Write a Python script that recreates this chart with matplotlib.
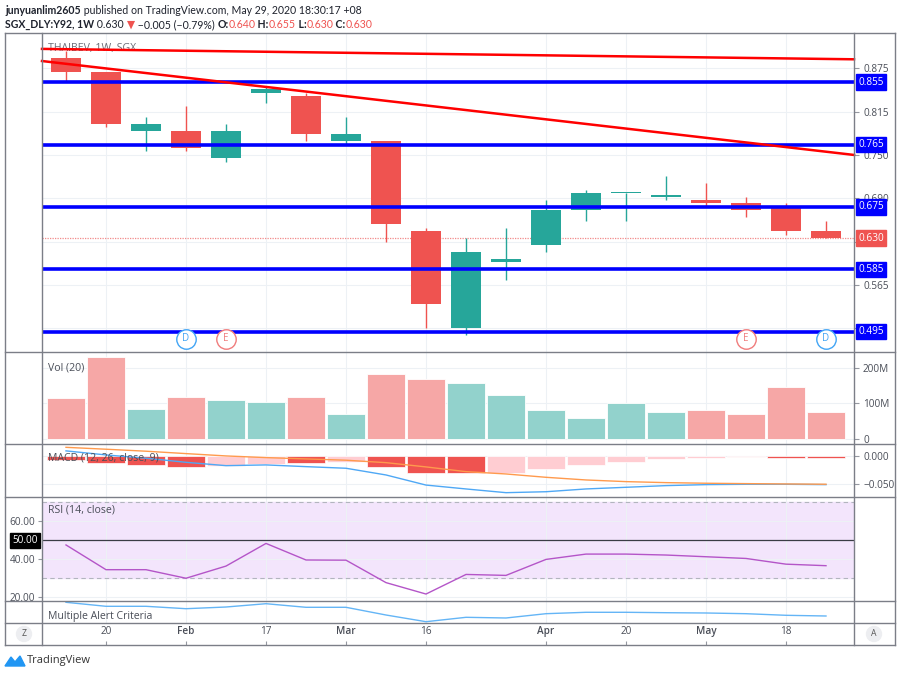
import matplotlib
matplotlib.use("Agg")
import matplotlib.pyplot as plt
from matplotlib.patches import Circle, Polygon
from matplotlib.lines import Line2D
from matplotlib.transforms import blended_transform_factory

plt.rcParams['font.family'] = ['Open Sans', 'DejaVu Sans']

W, H = 900, 675

# weekly bars, week of 13 Jan 2020 .. week of 25 May 2020
opens  = [0.890, 0.870, 0.785, 0.785, 0.745, 0.840, 0.835, 0.770, 0.770, 0.640,
          0.500, 0.595, 0.620, 0.670, 0.695, 0.690, 0.685, 0.680, 0.675, 0.640]
highs  = [0.900, 0.870, 0.805, 0.820, 0.795, 0.850, 0.840, 0.805, 0.770, 0.645,
          0.630, 0.645, 0.685, 0.700, 0.695, 0.720, 0.710, 0.690, 0.680, 0.655]
lows   = [0.855, 0.790, 0.755, 0.755, 0.740, 0.825, 0.770, 0.765, 0.625, 0.500,
          0.490, 0.570, 0.610, 0.655, 0.655, 0.685, 0.675, 0.660, 0.635, 0.630]
closes = [0.870, 0.795, 0.795, 0.760, 0.785, 0.845, 0.780, 0.780, 0.650, 0.535,
          0.610, 0.600, 0.670, 0.695, 0.695, 0.690, 0.680, 0.670, 0.640, 0.630]
volume_m = [116, 232, 84, 117, 110, 103, 118, 71, 184, 170,
            156, 123, 82, 59, 100, 75, 80, 70, 146, 76]

macd_line = [0.0096, 0.0023, -0.0036, -0.011, -0.017, -0.0157, -0.0188, -0.0217, -0.0338, -0.052,
             -0.059, -0.0657, -0.064, -0.059, -0.056, -0.053, -0.0512, -0.0506, -0.0506, -0.0512]
macd_signal = [0.016, 0.0126, 0.009, 0.0047, 0.0005, -0.0025, -0.0049, -0.0072, -0.0116, -0.0193,
               -0.0278, -0.032, -0.038, -0.0428, -0.0458, -0.0476, -0.0487, -0.0494, -0.050, -0.0505]
macd_hist = [-0.007, -0.0126, -0.0157, -0.019, -0.018, -0.014, -0.013, -0.011, -0.020, -0.031,
             -0.031, -0.0296, -0.023, -0.015, -0.0097, -0.0049, -0.0025, -0.0013, -0.0025, -0.0025]
hist_falling = [1, 1, 1, 1, 0, 0, 1, 0, 1, 1, 1, 0, 0, 0, 0, 0, 0, 0, 1, 1]

rsi = [47.5, 34.5, 34.5, 30.0, 36.4, 48.3, 39.6, 39.5, 27.7, 21.7,
       32.0, 31.5, 39.9, 42.7, 42.7, 42.2, 41.3, 40.4, 37.4, 36.6]
alert = [92.9, 75.2, 75.2, 64.6, 72.1, 86.7, 70.8, 70.8, 36.7, 7.1,
         26.5, 23.5, 42.5, 48.7, 48.7, 46.9, 45.6, 42.5, 35.4, 32.3]

levels = [0.855, 0.765, 0.675, 0.585, 0.495]
trend_lines = [((-0.6, 0.903), (19.7, 0.888)),
               ((-0.6, 0.8855), (19.7, 0.750))]
events = [(3, 'D'), (4, 'E'), (17, 'E'), (19, 'D')]

xtick_pos = [1, 3, 5, 7, 9, 12, 14, 16, 18]
xtick_lab = ['20', 'Feb', '17', 'Mar', '16', 'Apr', '20', 'May', '18']

price_ticks = [0.5, 0.5625, 0.625, 0.6875, 0.75, 0.8125, 0.875]
price_tick_lab = ['', '0.565', '', '0.690', '0.750', '0.815', '0.875']

UP, DOWN = '#26A69A', '#EF5350'
GRID = '#EDF1F5'
SEP = '#7B7E87'
TXT = '#4A4E58'
BLUE = '#0000FF'

fig = plt.figure(figsize=(9, 6.75), dpi=100)
n = len(closes)
xs = list(range(n))
XL = (-0.6, 19.7)


def panel(y0, y1):
    a = fig.add_axes([42 / W, 1 - y1 / H, (854 - 42) / W, (y1 - y0) / H])
    a.set_xlim(*XL)
    for s in a.spines.values():
        s.set_visible(False)
    a.set_xticks(xtick_pos)
    a.tick_params(axis='x', length=0, labelbottom=False)
    a.grid(True, color=GRID, lw=0.8)
    a.set_axisbelow(True)
    return a


def right_ticks(a, ticks, labels):
    a.yaxis.tick_right()
    a.set_yticks(ticks)
    a.set_yticklabels(labels)
    a.tick_params(axis='y', length=3.5, width=0.8, color='#9598A1', pad=3,
                  labelsize=7.2, labelcolor=TXT)


def axis_box(a, val, txt, color, fg='white'):
    tr = blended_transform_factory(a.transAxes, a.transData)
    a.annotate(txt, xy=(1, val), xycoords=tr, xytext=(3.2, 0), textcoords='offset points',
               ha='left', va='center', fontsize=7.2, color=fg, annotation_clip=False,
               bbox=dict(boxstyle='square,pad=0.22', fc=color, ec=color), zorder=20)


# price panel
ax = panel(33.3, 352)
ax.set_ylim(0.4657, 0.9255)
right_ticks(ax, price_ticks, price_tick_lab)
for i in xs:
    o, h, l, c = opens[i], highs[i], lows[i], closes[i]
    col = UP if c >= o else DOWN
    ax.vlines(i, l, h, color=col, lw=1, zorder=2)
    body = max(abs(c - o), 0.0018)
    ax.bar(i, body, bottom=min(o, c), width=0.77, color=col, zorder=3)
for lv in levels:
    ax.axhline(lv, color=BLUE, lw=2.6, zorder=4)
    axis_box(ax, lv, f'{lv:.3f}', BLUE)
for (xa, ya), (xb, yb) in trend_lines:
    ax.plot([xa, xb], [ya, yb], color='#FF0000', lw=1.8, zorder=5, clip_on=False)
ax.axhline(closes[-1], color='#F28B8B', lw=0.9, ls=(0, (1, 1)), zorder=1)
axis_box(ax, closes[-1], f'{closes[-1]:.3f}', DOWN)
ax.text(0.007, 0.952, 'THAIBEV, 1W, SGX', transform=ax.transAxes, fontsize=7.6,
        color='#6A6D78', va='center', zorder=1)
for i, lt in events:
    ec = '#42A5F5' if lt == 'D' else '#F07C7C'
    ax.plot(i, 0.4845, 'o', ms=14, mfc='white', mec=ec, mew=1, zorder=6, clip_on=False)
    ax.text(i, 0.4845, lt, ha='center', va='center', fontsize=7, color=ec, zorder=7)

# volume
av = panel(352, 444)
av.set_ylim(-15, 245)
right_ticks(av, [0, 100, 200], ['0', '100M', '200M'])
vcol = ['#92D2CC' if closes[i] >= opens[i] else '#F6A7A6' for i in xs]
av.bar(xs, volume_m, width=0.97, color=vcol, edgecolor='white', lw=0.6, zorder=2)
av.text(0.007, 0.83, 'Vol (20)', transform=av.transAxes, fontsize=7.6, color=TXT, va='center')

# macd
am = panel(444, 497)
am.set_ylim(-0.0735, 0.022)
right_ticks(am, [0, -0.05], ['0.000', '\u22120.050'])
hcol = [DOWN if f else '#FFCDD2' for f in hist_falling]
am.bar(xs, macd_hist, width=0.97, color=hcol, edgecolor='white', lw=0.5, zorder=2)
am.plot(xs, macd_line, color='#4FA8F5', lw=1, zorder=3)
am.plot(xs, macd_signal, color='#FF9A4D', lw=1, zorder=3)
am.text(0.007, 0.74, 'MACD (12, 26, close, 9)', transform=am.transAxes, fontsize=7.6,
        color=TXT, va='center', zorder=4)

# rsi
ar = panel(497, 600.7)
ar.set_ylim(18.2, 72.7)
ar.set_yticks([20, 40, 60])
ar.set_yticklabels(['20.00', '40.00', '60.00'])
ar.tick_params(axis='y', length=3, width=0.8, color='#9598A1', pad=2, labelsize=7.2,
               labelcolor=TXT)
ar.axhspan(30, 70, color='#F3E5FC', zorder=0.5)
for lv in (30, 70):
    ar.axhline(lv, color='#B2B5BE', lw=0.8, ls=(0, (4, 3)), zorder=1)
ar.axhline(50, color='#3A3D45', lw=0.9, zorder=1)
ar.plot(xs, rsi, color='#B455C8', lw=1, zorder=3)
ar.text(0.007, 0.875, 'RSI (14, close)', transform=ar.transAxes, fontsize=7.6, color=TXT,
        va='center')
trl = blended_transform_factory(ar.transAxes, ar.transData)
ar.annotate('50.00', xy=(0, 50), xycoords=trl, xytext=(-3, 0), textcoords='offset points',
            ha='right', va='center', fontsize=7.2, color='white', annotation_clip=False,
            bbox=dict(boxstyle='square,pad=0.2', fc='black', ec='black'))

# alert criteria
aa = panel(600.7, 623.3)
aa.set_ylim(0, 100)
aa.set_yticks([])
aa.plot(xs, alert, color='#64B5F6', lw=1, zorder=3)
aa.text(0.007, 0.3, 'Multiple Alert Criteria', transform=aa.transAxes, fontsize=7.6,
        color=TXT, va='center')

# time axis
at = panel(623.3, 645)
at.set_yticks([])
at.grid(False)
at.tick_params(axis='x', length=3, color='#9598A1', labelbottom=True, pad=-14, labelsize=7.2,
               labelcolor=TXT, direction='in')
at.set_xticklabels(xtick_lab)
for lab in at.get_xticklabels():
    if lab.get_text().isalpha():
        lab.set_fontweight('semibold')

# frame, separators, header, logo
fr = fig.add_axes([0, 0, 1, 1], zorder=10)
fr.set_xlim(0, W)
fr.set_ylim(H, 0)
fr.axis('off')
fr.patch.set_visible(False)
for y in (33.3, 352, 444, 497, 600.7, 623.3, 645):
    fr.add_line(Line2D([5, 895], [y, y], color=SEP, lw=1))
for x in (5, 42, 854, 895):
    fr.add_line(Line2D([x, x], [33.3, 645], color=SEP, lw=1))
for x, t in ((24, 'Z'), (874, 'A')):
    fr.add_patch(Circle((x, 634), 7.5, color='#EDEEF1'))
    fr.text(x, 634, t, ha='center', va='center', fontsize=6.2, color='#555')

fig.canvas.draw()
rend = fig.canvas.get_renderer()


def text_run(x, y, parts):
    for txt, weight, color in parts:
        t = fr.text(x, y, txt, fontsize=7.6, fontweight=weight, color=color, va='center',
                    family=['Lato', 'DejaVu Sans'])
        bb = t.get_window_extent(renderer=rend)
        x += bb.width * W / fig.bbox.width


DARK = '#1E222D'
RED = '#EF5350'
text_run(5, 10, [('junyuanlim2605', 'bold', DARK),
                 (' published on TradingView.com, May 29, 2020 18:30:17 +08', 'normal', DARK)])
text_run(5, 24.5, [('SGX_DLY:Y92, 1W', 'bold', DARK), (' 0.630 ', 'normal', DARK),
                   ('\u25BC', 'normal', RED), (' \u22120.005 (\u22120.79%) ', 'normal', DARK),
                   ('O:', 'bold', DARK), ('0.640', 'normal', RED),
                   (' H:', 'bold', DARK), ('0.655', 'normal', RED),
                   (' L:', 'bold', DARK), ('0.630', 'normal', RED),
                   (' C:', 'bold', DARK), ('0.630', 'normal', RED)])

fr.add_patch(Polygon([(5, 666), (11, 657), (15, 662), (20, 656), (25, 666)],
                     closed=True, color='#2196F3'))
fr.text(27, 661, 'TradingView', fontsize=8, color='#333', va='center')

fig.savefig('out.png', dpi=100)
